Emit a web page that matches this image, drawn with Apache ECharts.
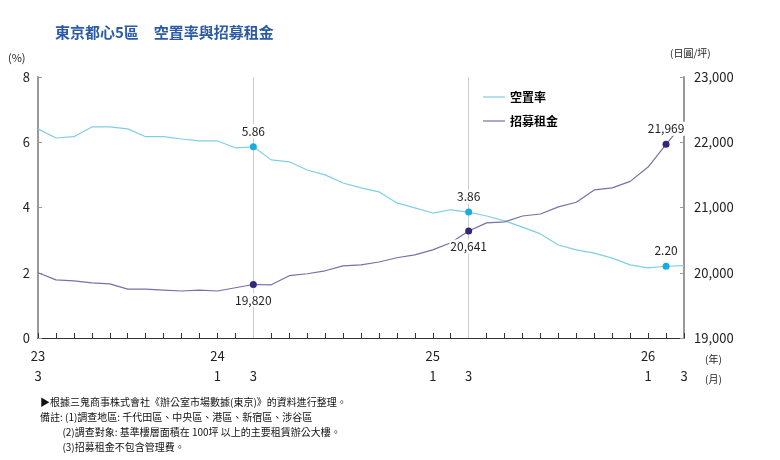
<!DOCTYPE html>
<html><head><meta charset="utf-8">
<script src="https://cdn.jsdelivr.net/npm/echarts@6/dist/echarts.min.js"></script>
<style>body{margin:0;background:#fff}#main{width:780px;height:460px}</style>
</head><body><div id="main"></div>
<script>
// 2023-03 .. 2026-03, monthly
var months = [];
for (var i = 0; i < 37; i++) {
  var t = 2 + i; months.push((23 + Math.floor(t / 12)) + '-' + (t % 12 + 1));
}
var vacancy = [6.41,6.13,6.17,6.47,6.47,6.41,6.17,6.17,6.10,6.04,6.04,5.83,5.86,5.46,5.40,5.15,5.00,4.75,4.60,4.48,4.14,3.99,3.83,3.93,3.86,3.74,3.59,3.40,3.19,2.85,2.70,2.60,2.45,2.24,2.15,2.20,2.22];
var rent = [20000,19890,19875,19845,19830,19750,19750,19735,19720,19735,19720,19770,19820,19815,19955,19985,20030,20105,20120,20165,20230,20275,20350,20460,20641,20765,20780,20870,20900,21010,21080,21270,21300,21400,21620,21969,22302];
var markIdx = [12, 24, 35];
var font = '"Noto Sans CJK TC", sans-serif';

function pts(arr, color, isRent) {
  return arr.map(function (v, i) {
    if (markIdx.indexOf(i) >= 0) {
      return { value: v, symbol: 'circle', symbolSize: 7, itemStyle: { color: color },
        label: { show: true, position: (isRent && i < 30) ? 'bottom' : 'top', distance: 5,
          backgroundColor: '#fff', padding: [1, 1],
          formatter: isRent ? v.toLocaleString('en-US') : v.toFixed(2) } };
    }
    if (i === arr.length - 1) {
      return { value: v, symbol: 'circle', symbolSize: 2, itemStyle: { opacity: 0 },
        label: { show: true, position: 'right', distance: 10,
        offset: isRent ? [0, -20] : [0, -8],
        formatter: isRent ? v.toLocaleString('en-US') : v.toFixed(2) } };
    }
    return v;
  });
}

var chart = echarts.init(document.getElementById('main'));
chart.setOption({
  animation: false,
  textStyle: { fontFamily: font },
  title: { text: '東京都心5區　空置率與招募租金', left: 50, top: 20,
    textStyle: { color: '#2a5aa8', fontSize: 15, fontWeight: 'bold', fontFamily: font } },
  legend: { orient: 'vertical', left: 478, top: 86, itemGap: 12, itemWidth: 22, icon: 'path://M0,0H22V1.2H0Z',
    textStyle: { fontSize: 12, fontWeight: 'bold', color: '#000', fontFamily: font },
    data: ['空置率', '招募租金'] },
  grid: { left: 38, right: 96, top: 77, bottom: 122 },
  xAxis: {
    type: 'category', data: months, boundaryGap: false,
    axisLine: { lineStyle: { color: '#333' } },
    axisTick: { interval: 0, length: 5, inside: true, lineStyle: { color: '#333' } },
    axisLabel: { interval: 0, color: '#222', fontSize: 13, lineHeight: 20, margin: 8,
      formatter: function (v, i) {
        var p = v.split('-'); var m = +p[1];
        if (i === 0) return p[0] + '\n3';
        if (m === 1) return p[0] + '\n1';
        if (m === 3) return ' \n3';
        return '';
      } }
  },
  yAxis: [
    { type: 'value', min: 0, max: 8, interval: 2, splitLine: { show: false },
      axisLine: { show: true, lineStyle: { color: '#999', width: 2 } },
      axisTick: { show: true, inside: true, length: 4, lineStyle: { color: '#999' } },
      axisLabel: { color: '#222', fontSize: 13 } },
    { type: 'value', min: 19000, max: 23000, interval: 1000, splitLine: { show: false },
      axisLine: { show: true, lineStyle: { color: '#999', width: 2 } },
      axisTick: { show: true, inside: true, length: 4, lineStyle: { color: '#999' } },
      axisLabel: { color: '#222', fontSize: 13, margin: 10,
        formatter: function (v) { return v.toLocaleString('en-US'); } } }
  ],
  series: [
    { name: '空置率', type: 'line', data: pts(vacancy, '#1aace0', false), yAxisIndex: 0,
      showSymbol: true, symbol: 'none', color: '#7ecfe3', lineStyle: { width: 1.2, color: '#7ecfe3' },
      label: { color: '#222', fontSize: 12 },
      markLine: { silent: true, symbol: 'none', label: { show: false }, z: 1,
        lineStyle: { color: '#ccc', type: 'solid', width: 1 },
        data: [{ xAxis: months[12] }, { xAxis: months[24] }] } },
    { name: '招募租金', type: 'line', data: pts(rent, '#2e2a78', true), yAxisIndex: 1,
      showSymbol: true, symbol: 'none', color: '#7a6fa8', lineStyle: { width: 1.2, color: '#7a6fa8' },
      label: { color: '#222', fontSize: 12 } }
  ],
  graphic: [
    { type: 'text', left: 8, top: 52, style: { text: '(%)', fontSize: 11, fill: '#222', fontFamily: font } },
    { type: 'text', left: 670, top: 48, style: { text: '(日圓/坪)', fontSize: 10, fill: '#222', fontFamily: font } },
    { type: 'text', left: 705, top: 349, style: { text: '(年)\n(月)', fontSize: 10, lineHeight: 20, fill: '#222', fontFamily: font } },
    { type: 'text', left: 40, top: 395, style: { fontSize: 10, lineHeight: 15, fill: '#111', fontFamily: font,
      text: '▶根據三鬼商事株式會社《辦公室市場數據(東京)》的資料進行整理。\n備註: (1)調查地區: 千代田區、中央區、港區、新宿區、涉谷區\n          (2)調查對象: 基準樓層面積在 100坪 以上的主要租賃辦公大樓。\n          (3)招募租金不包含管理費。' } }
  ]
});
</script></body></html>
